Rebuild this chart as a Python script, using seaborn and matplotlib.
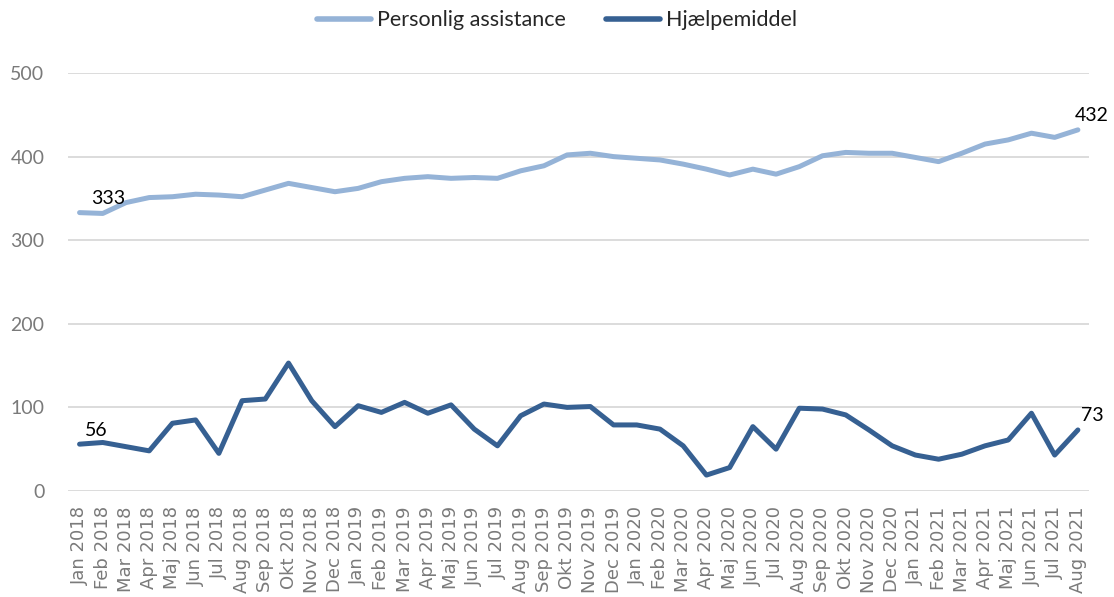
import numpy as np
import pandas as pd
import seaborn as sns
import matplotlib.pyplot as plt

months = ['Jan', 'Feb', 'Mar', 'Apr', 'Maj', 'Jun', 'Jul', 'Aug', 'Sep', 'Okt', 'Nov', 'Dec']
labels = [f'{m} {y}' for y in (2018, 2019, 2020, 2021) for m in months][:44]

personlig = [333, 332, 345, 351, 352, 355, 354, 352, 360, 368, 363, 358,
             362, 370, 374, 376, 374, 375, 374, 383, 389, 402, 404, 400,
             398, 396, 391, 385, 378, 385, 379, 388, 401, 405, 404, 404,
             399, 394, 404, 415, 420, 428, 423, 432]
hjaelp = [56, 58, 53, 48, 81, 85, 45, 108, 110, 153, 108, 77,
          102, 94, 106, 93, 103, 74, 54, 90, 104, 100, 101, 79,
          79, 74, 54, 19, 28, 77, 50, 99, 98, 91, 73, 54,
          43, 38, 44, 54, 61, 93, 43, 73]

series_names = ['Personlig assistance', 'Hjælpemiddel']
colors = ['#95B3D7', '#366092']

df = pd.DataFrame({
    'idx': list(range(len(labels))) * 2,
    'value': personlig + hjaelp,
    'serie': [series_names[0]] * len(labels) + [series_names[1]] * len(labels),
})

sns.set_theme(style='white')
plt.rcParams['font.family'] = ['Lato', 'DejaVu Sans']

fig = plt.figure(figsize=(11.14, 5.97), dpi=100)
ax = fig.add_axes([0.061, 0.1776, 0.917, 0.7001])

sns.lineplot(data=df, x='idx', y='value', hue='serie', palette=colors,
             linewidth=3.6, ax=ax, legend=False, sort=False)

ax.set_xlim(-0.5, len(labels) - 0.5)
ax.set_ylim(0, 500)
ax.set_yticks([0, 100, 200, 300, 400, 500])
ax.set_xticks(range(len(labels)))
ax.set_xticklabels(labels, rotation=90, fontsize=13, color='#7A7A7A',
                   family='DejaVu Sans')
ax.tick_params(axis='y', labelsize=14, colors='#7A7A7A', length=0, pad=17)
ax.tick_params(axis='x', length=0, pad=11)
ax.set_xlabel('')
ax.set_ylabel('')
for s in ax.spines.values():
    s.set_visible(False)
ax.yaxis.grid(True, color='#D9D9D9', linewidth=1.3)
ax.set_axisbelow(True)

# data labels on first and last points
n = len(labels) - 1
ax.annotate(str(personlig[0]), (0, personlig[0]), xytext=(8, 4), textcoords='offset points',
            fontsize=14, color='black', va='bottom')
ax.annotate(str(hjaelp[0]), (0, hjaelp[0]), xytext=(4, 4), textcoords='offset points',
            fontsize=14, color='black', va='bottom')
ax.annotate(str(personlig[n]), (n, personlig[n]), xytext=(-2, 4), textcoords='offset points',
            fontsize=14, color='black', va='bottom')
ax.annotate(str(hjaelp[n]), (n, hjaelp[n]), xytext=(2, 4), textcoords='offset points',
            fontsize=14, color='black', va='bottom')

handles = [plt.Line2D([], [], color=c, linewidth=4, solid_capstyle='round') for c in colors]
fig.legend(handles, series_names, loc='center', bbox_to_anchor=(0.5, 0.966), ncol=2,
           frameon=False, fontsize=15.5, handlelength=2.5, columnspacing=1.9, handletextpad=0.25)

fig.savefig('out.png', dpi=100)
